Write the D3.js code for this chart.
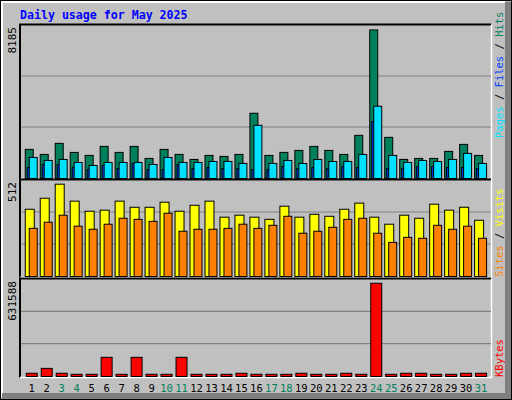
<!DOCTYPE html>
<html><head><meta charset="utf-8">
<script src="https://cdn.jsdelivr.net/npm/d3@7"></script>
<style>body{margin:0;background:#fff}svg{display:block}text{font-family:"DejaVu Sans Mono",monospace}</style>
</head><body><svg id="c" width="512" height="400"></svg>
<script>
const days = d3.range(1, 32);
const weekend = [3, 4, 10, 11, 17, 18, 24, 25, 31];
const hits = [1604,1327,1936,1438,1272,1770,1438,1770,1106,1604,1327,1051,1272,1217,1327,3595,1272,1438,1548,1770,1548,1327,2378,8185,2267,1051,1106,1106,1493,1880,1272];
const pages = [1161,995,1051,885,719,885,885,885,774,1161,885,885,940,940,830,2931,830,995,830,1051,940,940,1327,3982,1272,885,995,940,1051,1383,830];
const files = [608,774,774,608,498,719,553,830,498,498,774,553,608,553,553,498,498,664,553,608,553,664,608,3140,553,553,664,664,608,608,553];
const visits = [373,434,512,418,362,368,418,384,384,412,362,395,418,329,340,329,317,390,329,345,334,373,407,329,290,340,323,401,368,384,312];
const sites = [267,301,340,279,262,290,323,317,306,351,251,262,262,267,290,267,284,334,240,251,273,317,323,240,189,217,212,284,262,279,212];
const kbytes = [22000,55000,22000,15000,15000,130000,15000,130000,15000,15000,130000,15000,15000,15000,22000,15000,15000,15000,22000,15000,15000,22000,15000,631588,15000,22000,22000,15000,15000,22000,22000];

const svg = d3.select('#c');
const L = 20, R = 491;

// frame
svg.append('rect').attr('x', 0.5).attr('y', 0.5).attr('width', 511).attr('height', 399).attr('fill', '#c0c0c0').attr('stroke', '#000');
svg.append('path').attr('d', 'M2,397V2H505').attr('stroke', '#fff').attr('stroke-width', 2).attr('fill', 'none');
svg.append('path').attr('d', 'M508,2V396H2').attr('stroke', '#808080').attr('stroke-width', 6).attr('fill', 'none');

svg.append('text').attr('x', 20).attr('y', 19).attr('fill', '#0000ff').attr('font-weight', 'bold')
    .attr('font-size', 11.6).text('Daily usage for May 2025');

const x = d3.scaleBand().domain(days).range([24, 24 + 14.93 * 31]).paddingInner(0.2).paddingOuter(0.05);

const panels = [
    { top: 25, bottom: 178, max: 8185 * 1.03, label: '8185' },
    { top: 180, bottom: 276, max: 512 * 1.04, label: '512' },
    { top: 279, bottom: 376, max: 631588 * 1.04, label: '631588' },
];

panels.forEach(p => {
    p.y = d3.scaleLinear().domain([0, p.max]).range([p.bottom, p.top]);
    const h = p.bottom - p.top;
    svg.append('path').attr('d', `M${L},${p.bottom + 1.5}V${p.top - 0.5}H${R}`).attr('stroke', '#000').attr('fill', 'none').attr('stroke-width', 2);
    svg.append('path').attr('d', `M${R + 0.5},${p.top}V${p.bottom + 1.5}H${L}`).attr('stroke', '#fff').attr('fill', 'none').attr('stroke-width', 1.5);
    [1, 2].forEach(k => svg.append('line').attr('x1', L + 1).attr('x2', R).attr('y1', p.top + h * k / 3).attr('y2', p.top + h * k / 3)
        .attr('stroke', '#808080').attr('stroke-width', 1.2));
    svg.append('text').attr('transform', `translate(16,${p.top + 2}) rotate(-90)`).attr('text-anchor', 'end')
        .attr('font-size', 11).attr('fill', '#000').text(p.label);
});

function bars(series, p, color, dx, w) {
    svg.append('g').selectAll('rect').data(series).join('rect')
        .attr('x', (d, i) => x(days[i]) + dx + 0.5)
        .attr('width', w)
        .attr('y', d => p.y(d) + 0.5)
        .attr('height', d => p.bottom - p.y(d))
        .attr('fill', color).attr('stroke', '#000').attr('stroke-width', 1);
}
const bw = x.bandwidth();
bars(hits, panels[0], '#00805c', 0, 8);
bars(files, panels[0], '#0040ff', 2, 8);
bars(pages, panels[0], '#00e0ff', bw - 8, 8);
bars(visits, panels[1], '#ffff00', 0, 9);
bars(sites, panels[1], '#ff8000', bw - 8, 8);
bars(kbytes, panels[2], '#ff0000', 1, bw - 1);

svg.append('g').selectAll('text').data(days).join('text')
    .attr('x', d => x(d) + bw / 2 + 1).attr('y', 392).attr('text-anchor', 'middle').attr('font-size', 10.5)
    .attr('fill', d => weekend.includes(d) ? '#00805c' : '#000').text(d => d);

function legend(parts, yStart) {
    const t = svg.append('text').attr('transform', `translate(503,${yStart}) rotate(-90)`).attr('font-size', 10.5);
    parts.forEach(([s, c]) => t.append('tspan').attr('fill', c).text(s));
}
legend([['Pages', '#00e0ff'], [' / ', '#000'], ['Files', '#0040ff'], [' / ', '#000'], ['Hits', '#00805c']], 138);
legend([['Sites', '#ff8000'], [' / ', '#000'], ['Visits', '#ffff00']], 277);
legend([['KBytes', '#ff0000']], 377);
</script></body></html>
